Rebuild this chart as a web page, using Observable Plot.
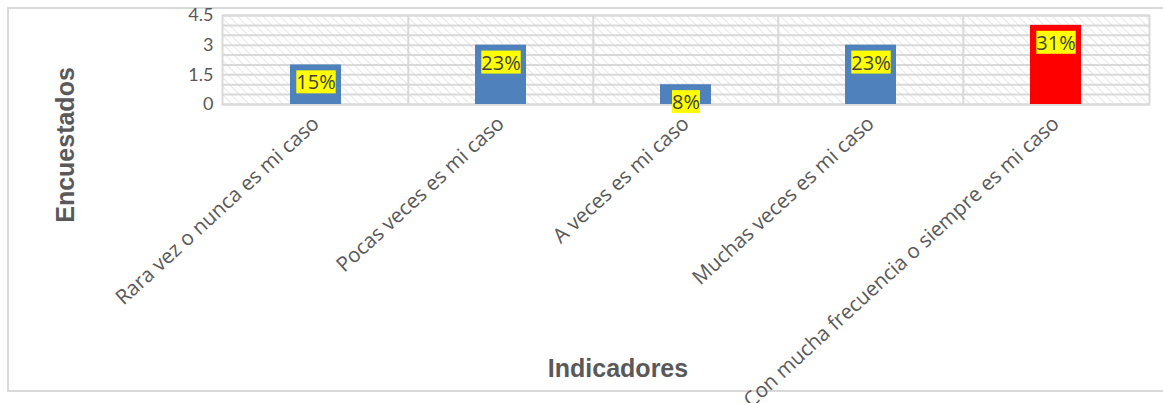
<!DOCTYPE html>
<html>
<head>
<meta charset="utf-8">
<script src="https://cdn.jsdelivr.net/npm/d3@7"></script>
<script src="https://cdn.jsdelivr.net/npm/@observablehq/plot@0.6"></script>
<style>
  html, body { margin: 0; padding: 0; background: #fff; width: 1163px; height: 403px; overflow: hidden; }
  #frame { position: absolute; left: 7px; top: 7px; width: 1170px; height: 385px; border: 2px solid #d9d9d9; box-sizing: border-box; }
  #chart { position: absolute; left: 0; top: 0; }
</style>
</head>
<body>
<div id="frame"></div>
<div id="chart"></div>
<script>
// ---- data ----
const categories = [
  "Rara vez o nunca es mi caso",
  "Pocas veces es mi caso",
  "A veces es mi caso",
  "Muchas veces es mi caso",
  "Con mucha frecuencia o siempre es mi caso"
];
const values = [2, 3, 1, 3, 4];
const yTicks = [0, 1.5, 3, 4.5];
const gridStepValues = [0, 0.5, 1, 1.5, 2, 2.5, 3, 3.5, 4, 4.5];
const highlighted = "Con mucha frecuencia o siempre es mi caso";
const xTitle = "Indicadores";
const yTitle = "Encuestados";

const total = d3.sum(values);
const data = categories.map((c, i) => ({ category: c, value: values[i], pct: d3.format(".0%")(values[i] / total) }));

const W = 1163, H = 403;
const mL = 222, mR = 14, mT = 15, mB = 299;
const step = (W - mL - mR) / categories.length;

const plot = Plot.plot({
  width: W,
  height: H,
  marginLeft: mL,
  marginRight: mR,
  marginTop: mT,
  marginBottom: mB,
  style: { background: "transparent", overflow: "visible" },
  x: { domain: categories, paddingInner: 0.725, paddingOuter: 0.3625, label: null },
  y: { domain: [0, 4.5], label: null },
  marks: [
    Plot.frame({ fill: "url(#diag)", stroke: null }),
    Plot.gridY(gridStepValues, { stroke: "#d9d9d9", strokeOpacity: 1, strokeWidth: 2 }),
    Plot.ruleX(categories.slice(1), { x: d => d, dx: -step / 2, stroke: "#d9d9d9", strokeWidth: 2 }),
    Plot.frame({ stroke: "#d9d9d9", strokeWidth: 2 }),
    Plot.barY(data, { x: "category", y: "value", fill: d => d.category === highlighted ? "#ff0000" : "#4f81bd" }),
    Plot.text(data, { x: "category", y: "value", text: "pct", dy: 18, fill: "#404040", fontSize: 20, fontFamily: "Open Sans" }),
    Plot.axisY(yTicks, { tickSize: 0, tickPadding: 9, fontSize: 18, fontFamily: "Lato", fill: "#595959", label: null, tickFormat: d => String(d) }),
    Plot.axisX({ tickSize: 0, tickPadding: 16, tickRotate: -42.5, fontSize: 20.5, fontFamily: "Open Sans", fill: "#595959", label: null }),
    Plot.text([yTitle], { frameAnchor: "left", textAnchor: "middle", lineAnchor: "middle", dx: -157, dy: 85, rotate: -90, text: d => d, fontSize: 25, fontWeight: "bold", fontFamily: "Liberation Sans", fill: "#595959" }),
    Plot.text([xTitle], { frameAnchor: "bottom", textAnchor: "middle", lineAnchor: "middle", dx: -68, dy: 264, text: d => d, fontSize: 25, fontWeight: "bold", fontFamily: "Liberation Sans", fill: "#595959" })
  ]
});

// hatch pattern definition
const ns = "http://www.w3.org/2000/svg";
const defs = document.createElementNS(ns, "defs");
defs.innerHTML = `<pattern id="diag" patternUnits="userSpaceOnUse" width="6" height="6" patternTransform="rotate(-45)">
  <rect width="6" height="6" fill="#ffffff"></rect>
  <line x1="0" y1="0" x2="0" y2="6" stroke="#d9d9d9" stroke-width="1.2"></line>
</pattern>`;
plot.insertBefore(defs, plot.firstChild);

document.getElementById("chart").appendChild(plot);

// yellow boxes behind the percentage labels
const pctSet = new Set(data.map(d => d.pct));
Array.from(plot.querySelectorAll("text")).forEach(t => {
  if (!pctSet.has(t.textContent)) return;
  const b = t.getBBox();
  const r = document.createElementNS(ns, "rect");
  r.setAttribute("x", b.x);
  r.setAttribute("y", b.y + 2);
  r.setAttribute("width", b.width);
  r.setAttribute("height", b.height - 4);
  r.setAttribute("fill", "#ffff00");
  const tr = t.getAttribute("transform");
  if (tr) r.setAttribute("transform", tr);
  t.parentNode.insertBefore(r, t);
});
</script>
</body>
</html>
